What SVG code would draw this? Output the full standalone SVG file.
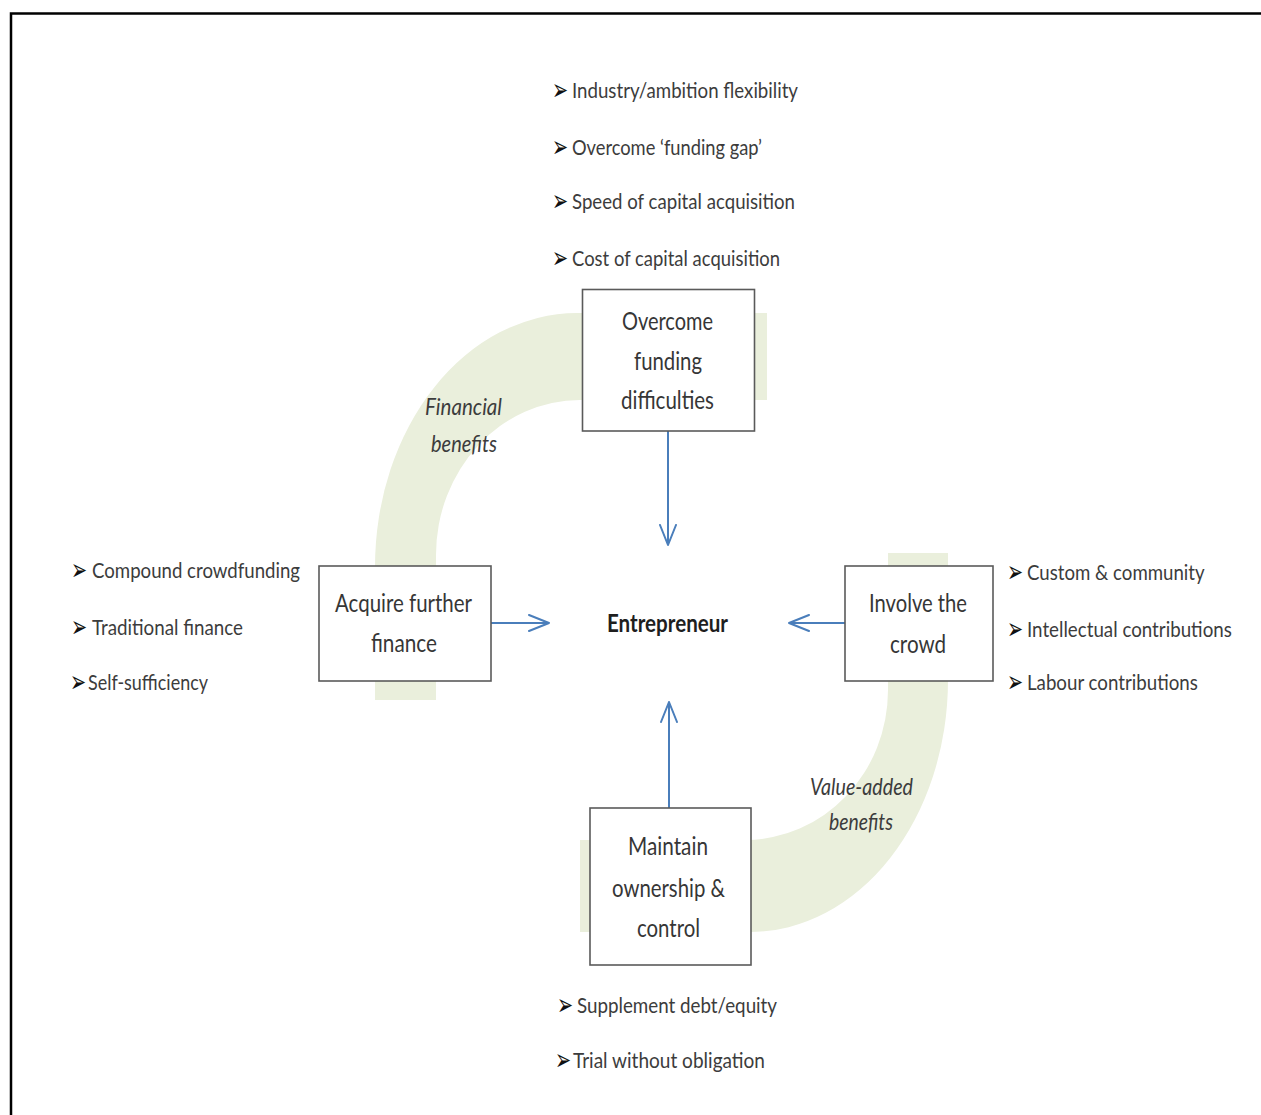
<svg xmlns="http://www.w3.org/2000/svg" width="1261" height="1115" viewBox="0 0 1261 1115">
<style>
.box{fill:#ffffff;stroke:#5a5a5a;stroke-width:1.6}
.bt{font-family:Lato,"Liberation Sans",sans-serif;font-size:25px;fill:#363636}
.ent{font-family:Lato,"Liberation Sans",sans-serif;font-size:25px;font-weight:bold;fill:#1e1e1e}
.lab{font-family:Lato,"Liberation Sans",sans-serif;font-size:24px;font-style:italic;fill:#3c3c3c}
.li{font-family:Lato,"Liberation Sans",sans-serif;font-size:22px;fill:#3c3c3c}
.bu{font-family:"DejaVu Sans",sans-serif;font-size:30px;fill:#111111}
.band{fill:#EAEFDC;stroke:none}
.conn{stroke:#4A7EBB;stroke-width:2;fill:none}
</style>
<defs>
<marker id="ah" viewBox="0 0 22 18" markerWidth="22" markerHeight="18" refX="21" refY="9" orient="auto" markerUnits="userSpaceOnUse">
<path d="M1,1 L21,9 L1,17" fill="none" stroke="#4A7EBB" stroke-width="2" stroke-linejoin="round" stroke-linecap="round"/>
</marker>
</defs>
<rect x="0" y="0" width="1261" height="1115" fill="#ffffff"/>
<path d="M11,1115 L11,13.5 L1261,13.5" fill="none" stroke="#000000" stroke-width="2.5"/>

<g id="band-financial">
<path class="band" d="M767,313 L577,313 A202,254 0 0 0 375,567 L375,700 L436,700 L436,555 A144,155 0 0 1 580,400 L767,400 Z"/>
<text class="lab" x="425" y="415" textLength="77" lengthAdjust="spacingAndGlyphs">Financial</text>
<text class="lab" x="431" y="452" textLength="66" lengthAdjust="spacingAndGlyphs">benefits</text>
</g>
<g id="band-value">
<path class="band" d="M888,553 L948,553 L948,680 A198,252 0 0 1 750,932 L580,932 L580,840 L745,840 A143,150 0 0 0 888,690 Z"/>
<text class="lab" x="810" y="795" textLength="103" lengthAdjust="spacingAndGlyphs">Value-added</text>
<text class="lab" x="829" y="830" textLength="64" lengthAdjust="spacingAndGlyphs">benefits</text>
</g>

<g id="connectors">
<path class="conn" d="M668,431 L668,545" marker-end="url(#ah)"/>
<path class="conn" d="M491,623 L549,623" marker-end="url(#ah)"/>
<path class="conn" d="M845,623 L789,623" marker-end="url(#ah)"/>
<path class="conn" d="M669,808 L669,702" marker-end="url(#ah)"/>
</g>

<g id="node-overcome">
<rect class="box" x="582.5" y="289.5" width="172" height="141.5"/>
<text class="bt" x="622" y="330" textLength="91" lengthAdjust="spacingAndGlyphs">Overcome</text>
<text class="bt" x="634" y="370" textLength="68" lengthAdjust="spacingAndGlyphs">funding</text>
<text class="bt" x="621" y="409" textLength="93" lengthAdjust="spacingAndGlyphs">difficulties</text>
</g>

<g id="node-acquire">
<rect class="box" x="319" y="566" width="172" height="115"/>
<text class="bt" x="335" y="612" textLength="137" lengthAdjust="spacingAndGlyphs">Acquire further</text>
<text class="bt" x="371" y="652" textLength="66" lengthAdjust="spacingAndGlyphs">finance</text>
</g>

<g id="node-involve">
<rect class="box" x="845" y="566" width="148" height="115"/>
<text class="bt" x="869" y="612" textLength="98" lengthAdjust="spacingAndGlyphs">Involve the</text>
<text class="bt" x="890" y="653" textLength="56" lengthAdjust="spacingAndGlyphs">crowd</text>
</g>

<g id="node-maintain">
<rect class="box" x="590" y="808" width="161" height="157"/>
<text class="bt" x="628" y="855" textLength="80" lengthAdjust="spacingAndGlyphs">Maintain</text>
<text class="bt" x="612" y="897" textLength="113" lengthAdjust="spacingAndGlyphs">ownership &amp;</text>
<text class="bt" x="637" y="937" textLength="63" lengthAdjust="spacingAndGlyphs">control</text>
</g>

<g id="node-entrepreneur">
<text class="ent" x="607" y="632" textLength="121" lengthAdjust="spacingAndGlyphs">Entrepreneur</text>
</g>

<g id="list-top">
<text class="bu" transform="translate(552,100) scale(0.64,1)">➢</text>
<text class="li" x="572" y="98" textLength="226" lengthAdjust="spacingAndGlyphs">Industry/ambition flexibility</text>
<text class="bu" transform="translate(552,157) scale(0.64,1)">➢</text>
<text class="li" x="572" y="155" textLength="190" lengthAdjust="spacingAndGlyphs">Overcome ‘funding gap’</text>
<text class="bu" transform="translate(552,211) scale(0.64,1)">➢</text>
<text class="li" x="572" y="209" textLength="223" lengthAdjust="spacingAndGlyphs">Speed of capital acquisition</text>
<text class="bu" transform="translate(552,268) scale(0.64,1)">➢</text>
<text class="li" x="572" y="266" textLength="208" lengthAdjust="spacingAndGlyphs">Cost of capital acquisition</text>
</g>

<g id="list-left">
<text class="bu" transform="translate(71,580) scale(0.64,1)">➢</text>
<text class="li" x="92" y="578" textLength="208" lengthAdjust="spacingAndGlyphs">Compound crowdfunding</text>
<text class="bu" transform="translate(71,637) scale(0.64,1)">➢</text>
<text class="li" x="92" y="635" textLength="151" lengthAdjust="spacingAndGlyphs">Traditional finance</text>
<text class="bu" transform="translate(70,692) scale(0.64,1)">➢</text>
<text class="li" x="88" y="690" textLength="120" lengthAdjust="spacingAndGlyphs">Self-sufficiency</text>
</g>

<g id="list-right">
<text class="bu" transform="translate(1007,582) scale(0.64,1)">➢</text>
<text class="li" transform="translate(1027,580) scale(0.85,1)" textLength="209" lengthAdjust="spacingAndGlyphs">Custom &amp; community</text>
<text class="bu" transform="translate(1007,639) scale(0.64,1)">➢</text>
<text class="li" transform="translate(1027,637) scale(0.85,1)" textLength="241" lengthAdjust="spacingAndGlyphs">Intellectual contributions</text>
<text class="bu" transform="translate(1007,692) scale(0.64,1)">➢</text>
<text class="li" transform="translate(1027,690) scale(0.85,1)" textLength="201" lengthAdjust="spacingAndGlyphs">Labour contributions</text>
</g>

<g id="list-bottom">
<text class="bu" transform="translate(557,1015) scale(0.64,1)">➢</text>
<text class="li" x="577" y="1013" textLength="200" lengthAdjust="spacingAndGlyphs">Supplement debt/equity</text>
<text class="bu" transform="translate(555,1070) scale(0.64,1)">➢</text>
<text class="li" x="573" y="1068" textLength="192" lengthAdjust="spacingAndGlyphs">Trial without obligation</text>
</g>
</svg>
